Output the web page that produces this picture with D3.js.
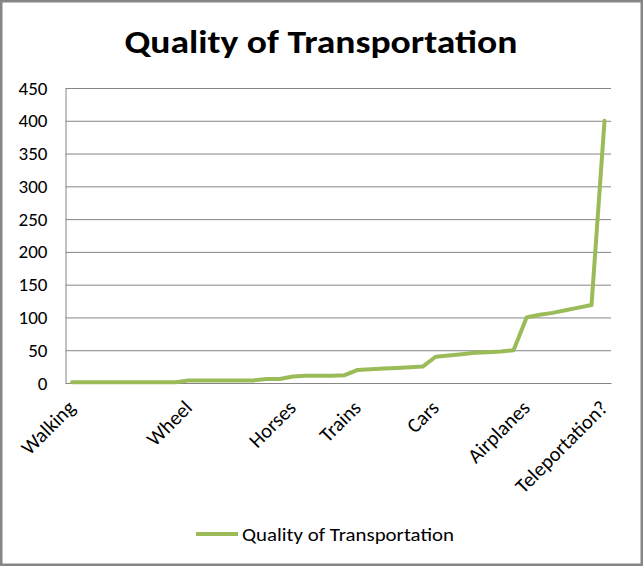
<!DOCTYPE html>
<html>
<head>
<meta charset="utf-8">
<script src="https://cdn.jsdelivr.net/npm/d3@7/dist/d3.min.js"></script>
<style>
  body { margin: 0; background: #fff; }
  svg text { font-family: Carlito, Calibri, Lato, sans-serif; fill: #000; }
</style>
</head>
<body>
<div id="chart"></div>
<script>
// category slots along the x axis; only some of them carry a label
const categories = ["Walking", "", "", "", "", "", "", "", "",
    "Wheel", "", "", "", "", "", "", "",
    "Horses", "", "", "", "",
    "Trains", "", "", "", "", "",
    "Cars", "", "", "", "", "", "",
    "Airplanes", "", "", "", "", "",
    "Teleportation?"];
const quality = [1, 1, 1, 1, 1, 1, 1, 1, 1,
    4, 4, 4, 4, 4, 4, 6, 6,
    10, 11, 11, 11, 12,
    20, 21, 22, 23, 24, 25,
    40, 42, 44, 46, 47, 48, 50,
    100, 104, 107, 111, 115, 119,
    400];
const yTicks = [0, 50, 100, 150, 200, 250, 300, 350, 400, 450];
const seriesName = "Quality of Transportation";

const W = 644, H = 567;
const plot = { left: 65.5, right: 611, top: 88, bottom: 383 };

const svg = d3.select("#chart").append("svg")
    .attr("width", W)
    .attr("height", H);

svg.append("rect")
    .attr("x", 1.25).attr("y", 1.25)
    .attr("width", W - 3.5).attr("height", H - 3.5)
    .attr("fill", "#fff")
    .attr("stroke", "#868686")
    .attr("stroke-width", 2.5);

const idx = d3.range(categories.length);
const x = d3.scalePoint().domain(idx).range([plot.left, plot.right]).padding(0.5);
const y = d3.scaleLinear().domain([0, 450]).range([plot.bottom, plot.top]);

// gridlines
svg.append("g")
    .attr("transform", `translate(${plot.left},0)`)
    .call(d3.axisLeft(y).tickValues(yTicks).tickSize(-(plot.right - plot.left)).tickFormat(""))
    .call(g => g.select(".domain").remove())
    .call(g => g.selectAll("line").attr("stroke", "#868686").attr("stroke-width", 1));

// y labels
svg.append("g")
    .attr("transform", `translate(${plot.left},0)`)
    .call(d3.axisLeft(y).tickValues(yTicks).tickSize(0).tickPadding(18))
    .call(g => g.select(".domain").attr("stroke", "#868686"))
    .call(g => g.selectAll("text").style("font-size", "19px"));

// x axis
svg.append("g")
    .attr("transform", `translate(0,${plot.bottom})`)
    .call(d3.axisBottom(x).tickSize(0).tickFormat(i => categories[i]))
    .call(g => g.select(".domain").attr("stroke", "#868686"))
    .call(g => g.selectAll("text")
        .style("font-size", "20.5px")
        .attr("text-anchor", "end")
        .attr("y", 0)
        .attr("dy", 0)
        .attr("transform", "translate(4,26) rotate(-45)"));

const line = d3.line()
    .x((d, i) => x(i))
    .y(d => y(d));

svg.append("path")
    .datum(quality)
    .attr("fill", "none")
    .attr("stroke", "#9BBB59")
    .attr("stroke-width", 4)
    .attr("stroke-linejoin", "round")
    .attr("stroke-linecap", "round")
    .attr("d", line);

// title
svg.append("text")
    .attr("x", 321)
    .attr("y", 53)
    .attr("text-anchor", "middle")
    .attr("textLength", 393)
    .attr("lengthAdjust", "spacingAndGlyphs")
    .style("font-size", "33px")
    .style("font-weight", "bold")
    .text(seriesName);

// legend
svg.append("line")
    .attr("x1", 196).attr("x2", 238)
    .attr("y1", 534).attr("y2", 534)
    .attr("stroke", "#9BBB59")
    .attr("stroke-width", 4);

svg.append("text")
    .attr("x", 242)
    .attr("y", 541)
    .attr("textLength", 212)
    .attr("lengthAdjust", "spacingAndGlyphs")
    .style("font-size", "18.5px")
    .text(seriesName);
</script>
</body>
</html>
